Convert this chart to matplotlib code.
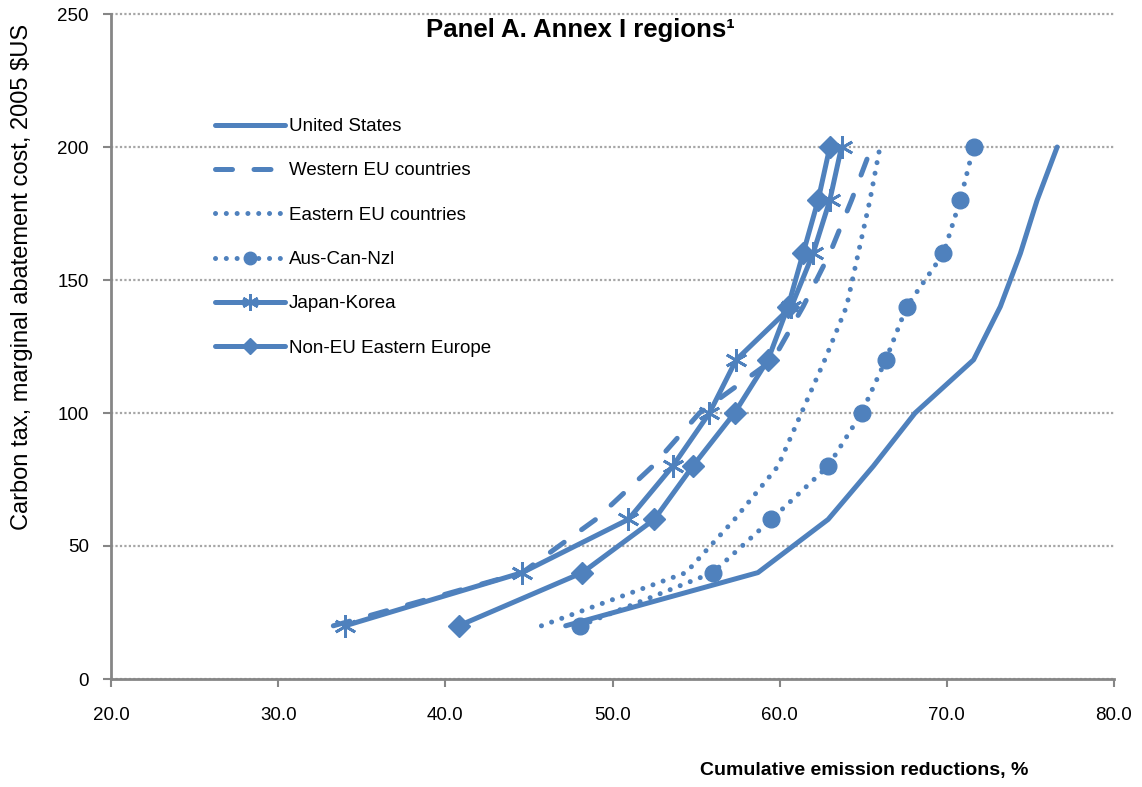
import matplotlib
matplotlib.use("Agg")
import matplotlib.pyplot as plt

plt.rcParams['font.family'] = ['Liberation Sans', 'DejaVu Sans']

# ---- data ----
tax = [20, 40, 60, 80, 100, 120, 140, 160, 180, 200]
united_states = [47.2, 58.7, 62.9, 65.6, 68.1, 71.6, 73.2, 74.4, 75.4, 76.6]
western_eu = [33.3, 44.6, 49.0, 52.4, 55.2, 59.6, 61.4, 63.0, 64.3, 65.5]
eastern_eu = [45.75, 54.4, 57.3, 59.9, 61.3, 62.7, 64.0, 64.7, 65.4, 66.0]
aus_can_nzl = [48.05, 56.0, 59.5, 62.9, 64.9, 66.35, 67.6, 69.8, 70.8, 71.6]
japan_korea = [34.0, 44.6, 50.95, 53.6, 55.8, 57.4, 60.7, 62.0, 63.0, 63.7]
non_eu_east = [40.8, 48.2, 52.5, 54.8, 57.3, 59.3, 60.5, 61.4, 62.3, 63.0]

labels = ["United States", "Western EU countries", "Eastern EU countries",
          "Aus-Can-Nzl", "Japan-Korea", "Non-EU Eastern Europe"]
x_ticks = [20, 30, 40, 50, 60, 70, 80]
y_ticks = [0, 50, 100, 150, 200, 250]

blue = "#4F81BD"
grey = "#A6A6A6"
lw = 3.6

fig = plt.figure(figsize=(11.42, 7.87), dpi=100)
ax = fig.add_axes([111/1142, 1-679/787, (1114-111)/1142, (679-14)/787])

common = dict(color=blue, lw=lw, solid_capstyle='round', dash_capstyle='round',
              solid_joinstyle='round')
ax.plot(united_states, tax, label=labels[0], **common)
ax.plot(western_eu, tax, label=labels[1], linestyle=(0, (3.4, 4.3)), **common)
ax.plot(eastern_eu, tax, label=labels[2], linestyle=(0, (0.01, 2.15)), **common)
ax.plot(aus_can_nzl, tax, label=labels[3], linestyle=(0, (0.01, 2.15)),
        marker='o', ms=12, mfc=blue, mec=blue, **common)
ax.plot(japan_korea, tax, label=labels[4], marker=(6, 2, 0), ms=16, mew=2,
        mec=blue, **common)
ax.plot(non_eu_east, tax, label=labels[5], marker='D', ms=11, mfc=blue, mec=blue,
        **common)

ax.set_xlim(20, 80)
ax.set_ylim(0, 250)
ax.set_xticks(x_ticks)
ax.set_xticklabels([f"{v:.1f}" for v in x_ticks])
ax.set_yticks(y_ticks)
ax.set_yticklabels([str(v) for v in y_ticks])

for s in ['top', 'right']:
    ax.spines[s].set_visible(False)
for s in ['left', 'bottom']:
    ax.spines[s].set_color('#868686')
    ax.spines[s].set_linewidth(2)

ax.tick_params(axis='both', colors='#868686', labelcolor='black', labelsize=13.5,
               width=1.5, length=6, direction='out')
ax.tick_params(axis='x', pad=14)
ax.tick_params(axis='y', pad=10)

ax.yaxis.grid(True, color=grey, linestyle=(0, (1, 1)), linewidth=1.6)
ax.set_axisbelow(True)
for gl in ax.get_ygridlines():
    gl.set_clip_on(False)

leg = ax.legend(loc='upper left', bbox_to_anchor=((215-111)/1003, (679-118)/665),
                frameon=False, fontsize=13.5, handlelength=3.75, handletextpad=0.2,
                labelspacing=1.45, borderpad=0, borderaxespad=0, numpoints=1)
for h in leg.legend_handles:
    if h.get_marker() not in (None, 'None', ''):
        h.set_markersize(h.get_markersize() * 0.75)

ax.text((580-111)/1003, (679-30)/665, "Panel A. Annex I regions\u00b9",
        transform=ax.transAxes, ha='center', va='center', fontsize=18.5,
        fontweight='bold')

fig.text(22/1142, 1-277/787, "Carbon tax, marginal abatement cost, 2005 $US",
         rotation=90, ha='center', va='center', fontsize=17)
fig.text(864/1142, 1-770/787, "Cumulative emission reductions, %",
         ha='center', va='center', fontsize=14, fontweight='bold')

fig.savefig("out.png", dpi=100)
